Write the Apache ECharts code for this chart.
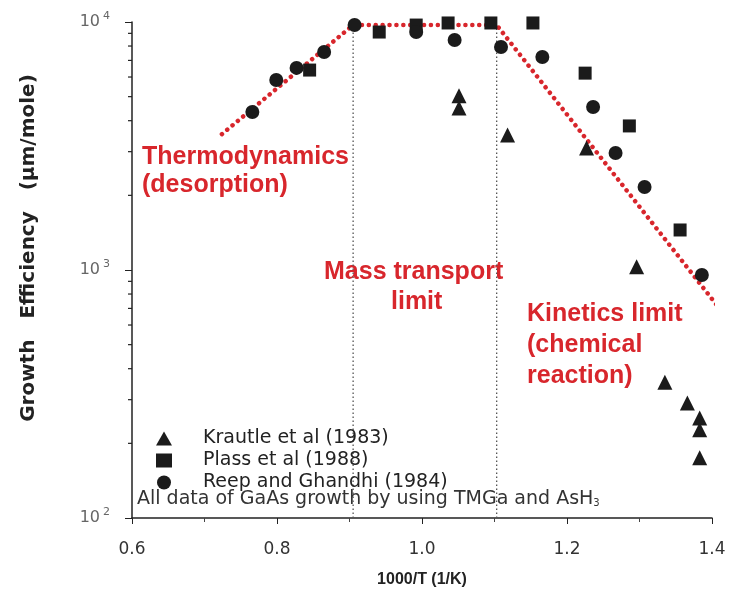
<!DOCTYPE html>
<html>
<head>
<meta charset="utf-8">
<script src="https://cdn.jsdelivr.net/npm/echarts@6/dist/echarts.min.js"></script>
<style>html,body{margin:0;padding:0;background:#fff}#c{width:730px;height:591px}</style>
</head>
<body>
<div id="c"></div>
<script>
// ---- data ----
var krautleX = [1.051, 1.051, 1.118, 1.227, 1.296, 1.335, 1.366, 1.383, 1.383, 1.383];
var krautleY = [5040, 4500, 3500, 3105, 1030, 353, 291, 253, 227, 175];
var plassX = [0.845, 0.941, 0.992, 1.036, 1.095, 1.153, 1.225, 1.286, 1.356];
var plassY = [6400, 9110, 9720, 9910, 9910, 9910, 6220, 3810, 1450];
var reepX = [0.766, 0.799, 0.827, 0.865, 0.907, 0.992, 1.045, 1.109, 1.166, 1.236, 1.267, 1.307, 1.386];
var reepY = [4335, 5840, 6530, 7570, 9730, 9110, 8460, 7930, 7230, 4540, 2965, 2160, 955];
var limitX = [0.724, 0.905, 1.103, 1.425];
var limitY = [3530, 9720, 9720, 617];
var boundaryX = [0.905, 1.103];
var yMinorTicks = [200, 300, 400, 500, 600, 700, 800, 900, 2000, 3000, 4000, 5000, 6000, 7000, 8000, 9000];
var seriesNames = ['Krautle et al (1983)', 'Plass et al (1988)', 'Reep and Ghandhi (1984)'];

function zip(xs, ys) { return xs.map(function (x, i) { return [x, ys[i]]; }); }

var chart = echarts.init(document.getElementById('c'));
var RED = '#d8262c';
var INK = '#1b1b1b';
var redText = { fill: RED, font: 'bold 25px "Liberation Sans", Arial, sans-serif' };

var option = {
  backgroundColor: '#fff',
  animation: false,
  grid: { left: 132, right: 18, top: 22, bottom: 73, outerBoundsMode: 'none', containLabel: false },
  legend: {
    orient: 'vertical', left: 151, top: 424, itemWidth: 16, itemHeight: 14, itemGap: 3,
    data: seriesNames,
    textStyle: { fontSize: 19, color: '#222', fontFamily: 'DejaVu Sans', padding: [0, 0, 0, 26] }
  },
  xAxis: {
    type: 'value', min: 0.6, max: 1.4, interval: 0.2,
    name: '1000/T (1/K)', nameLocation: 'middle', nameGap: 54,
    nameTextStyle: { fontSize: 16, fontWeight: 'bold', color: '#222', fontFamily: 'Liberation Sans' },
    axisLine: { lineStyle: { color: '#222', width: 1.5 } },
    axisTick: { length: 6, lineStyle: { color: '#222' } },
    minorTick: { show: true, splitNumber: 2, length: 4, lineStyle: { color: '#444' } },
    axisLabel: { fontSize: 17, color: '#333', margin: 23, fontFamily: 'DejaVu Sans',
      formatter: function (v) { return v.toFixed(1); } },
    splitLine: { show: false }
  },
  yAxis: {
    type: 'log', logBase: 10, min: 100, max: 10000,
    name: 'Growth   Efficiency   (\u03bcm/mole)', nameLocation: 'middle', nameGap: 93, nameRotate: 90,
    nameTextStyle: { fontSize: 20, fontWeight: 'bold', color: '#222', fontFamily: 'DejaVu Sans', padding: [0, 0, 0, 44] },
    axisLine: { show: true, lineStyle: { color: '#222', width: 1.5 } },
    axisTick: { length: 7, lineStyle: { color: '#222' } },
    axisLabel: {
      margin: 22,
      formatter: function (v) { return '{b|10}{s|' + Math.round(Math.log10(v)) + '}'; },
      rich: {
        b: { fontSize: 16, color: '#666', fontFamily: 'DejaVu Sans' },
        s: { fontSize: 11, color: '#666', fontFamily: 'DejaVu Sans', padding: [0, 0, 12, 3] }
      }
    },
    splitLine: { show: false }
  },
  series: [
    {
      name: seriesNames[0], type: 'scatter', symbol: 'triangle', symbolSize: 15,
      itemStyle: { color: INK, opacity: 1 }, data: zip(krautleX, krautleY), z: 5
    },
    {
      name: seriesNames[1], type: 'scatter', symbol: 'rect', symbolSize: 13,
      itemStyle: { color: INK, opacity: 1 }, data: zip(plassX, plassY), z: 5
    },
    {
      name: seriesNames[2], type: 'scatter', symbol: 'circle', symbolSize: 14,
      itemStyle: { color: INK, opacity: 1 }, data: zip(reepX, reepY), z: 5
    },
    {
      type: 'line', data: zip(limitX, limitY), symbol: 'none', clip: false, z: 4,
      lineStyle: { color: RED, width: 4.5, type: [0.1, 6.8], cap: 'round' }, silent: true
    },
    {
      type: 'line', data: [[boundaryX[0], 100], [boundaryX[0], limitY[1]]], symbol: 'none', z: 3,
      lineStyle: { color: '#555', width: 1.3, type: [1.5, 2.5] }, silent: true
    },
    {
      type: 'line', data: [[boundaryX[1], 100], [boundaryX[1], limitY[2]]], symbol: 'none', z: 3,
      lineStyle: { color: '#555', width: 1.3, type: [1.5, 2.5] }, silent: true
    },
    {
      type: 'custom', clip: false, silent: true, z: 2,
      data: yMinorTicks.map(function (v) { return [0.6, v]; }),
      renderItem: function (params, api) {
        var p = api.coord([api.value(0), api.value(1)]);
        return { type: 'line', shape: { x1: p[0] - 4, y1: p[1], x2: p[0], y2: p[1] },
          style: { stroke: '#222', lineWidth: 1.2 } };
      }
    }
  ],
  graphic: [
    { type: 'text', left: 142, top: 145, style: Object.assign({ text: 'Thermodynamics' }, redText) },
    { type: 'text', left: 142, top: 173, style: Object.assign({ text: '(desorption)' }, redText) },
    { type: 'text', left: 324, top: 260, style: Object.assign({ text: 'Mass transport' }, redText) },
    { type: 'text', left: 391, top: 290, style: Object.assign({ text: 'limit' }, redText) },
    { type: 'text', left: 527, top: 302, style: Object.assign({ text: 'Kinetics limit' }, redText) },
    { type: 'text', left: 527, top: 333, style: Object.assign({ text: '(chemical' }, redText) },
    { type: 'text', left: 527, top: 364, style: Object.assign({ text: 'reaction)' }, redText) },
    {
      type: 'text', left: 137, top: 490,
      style: {
        text: '{n|All data of GaAs growth by using TMGa and AsH}{sub|3}',
        rich: {
          n: { fontSize: 19, fill: '#333', fontFamily: 'DejaVu Sans' },
          sub: { fontSize: 10, fill: '#333', fontFamily: 'DejaVu Sans', padding: [8, 0, 0, 0] }
        }
      }
    }
  ]
};
chart.setOption(option);
</script>
</body>
</html>
